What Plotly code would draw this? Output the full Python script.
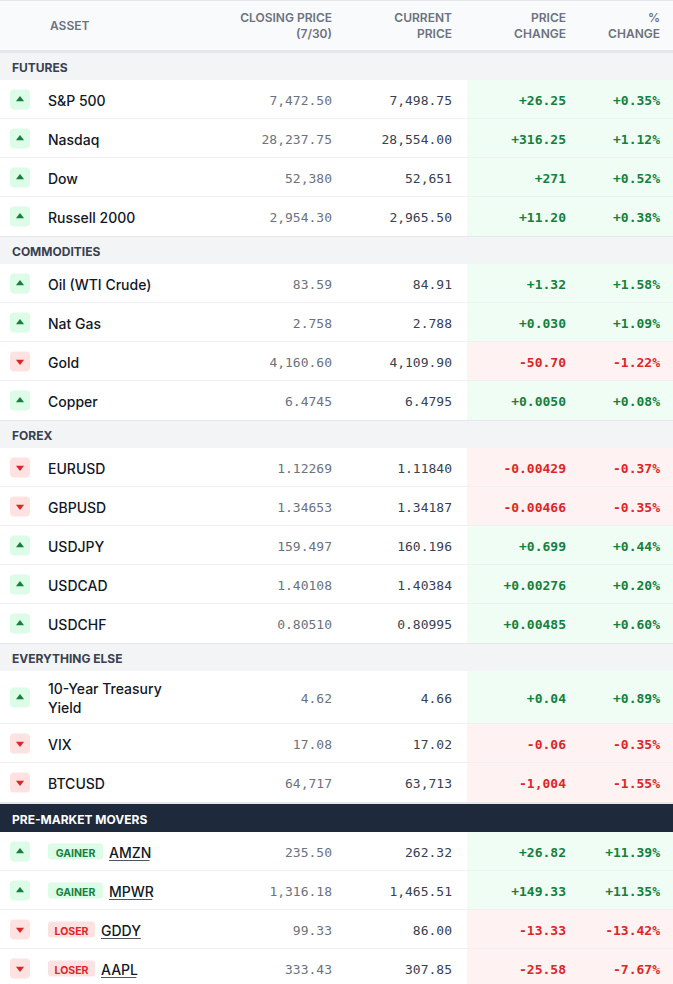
import plotly.graph_objects as go

# market snapshot table
W, H = 673, 984

sections = ["FUTURES", "COMMODITIES", "FOREX", "EVERYTHING ELSE", "PRE-MARKET MOVERS"]
section_sizes = [4, 4, 5, 3, 4]

assets = ["S&P 500", "Nasdaq", "Dow", "Russell 2000",
          "Oil (WTI Crude)", "Nat Gas", "Gold", "Copper",
          "EURUSD", "GBPUSD", "USDJPY", "USDCAD", "USDCHF",
          "10-Year Treasury<br>Yield", "VIX", "BTCUSD",
          "AMZN", "MPWR", "GDDY", "AAPL"]
mover_tags = ["GAINER", "GAINER", "LOSER", "LOSER"]

closing = ["7,472.50", "28,237.75", "52,380", "2,954.30",
           "83.59", "2.758", "4,160.60", "6.4745",
           "1.12269", "1.34653", "159.497", "1.40108", "0.80510",
           "4.62", "17.08", "64,717",
           "235.50", "1,316.18", "99.33", "333.43"]
current = ["7,498.75", "28,554.00", "52,651", "2,965.50",
           "84.91", "2.788", "4,109.90", "6.4795",
           "1.11840", "1.34187", "160.196", "1.40384", "0.80995",
           "4.66", "17.02", "63,713",
           "262.32", "1,465.51", "86.00", "307.85"]
price_change = ["+26.25", "+316.25", "+271", "+11.20",
                "+1.32", "+0.030", "-50.70", "+0.0050",
                "-0.00429", "-0.00466", "+0.699", "+0.00276", "+0.00485",
                "+0.04", "-0.06", "-1,004",
                "+26.82", "+149.33", "-13.33", "-25.58"]
pct_change = ["+0.35%", "+1.12%", "+0.52%", "+0.38%",
              "+1.58%", "+1.09%", "-1.22%", "+0.08%",
              "-0.37%", "-0.35%", "+0.44%", "+0.20%", "+0.60%",
              "+0.89%", "-0.35%", "-1.55%",
              "+11.39%", "+11.35%", "-13.42%", "-7.67%"]

header_labels = ["ASSET", "CLOSING PRICE<br>(7/30)", "CURRENT<br>PRICE", "PRICE<br>CHANGE", "%<br>CHANGE"]

GREEN, RED = "#15803d", "#dc2626"
GREEN_BG, RED_BG = "#f0fdf4", "#fef2f2"
GREEN_ICON, RED_ICON = "#dcfce7", "#fee2e2"
SANS = "Inter"
MONO = "DejaVu Sans Mono"

HEADER_H, SEC_H, ROW_H, TALL_H = 52, 28, 39, 53
X_NAME, X_CLOSE, X_CUR, X_CHG, X_PCT, X_BG = 48, 332, 452, 566, 660, 467
TXT_DY = 2.5  # plotly sets "middle" text a little high

# rough Inter 14px glyph widths for the ticker underline
glyph_w = {"A": 9.6, "M": 11.8, "Z": 8.8, "N": 10.3, "P": 8.8, "W": 13.6,
           "R": 9.0, "G": 10.2, "D": 10.2, "Y": 9.2, "L": 7.4}


def rounded_rect(x0, y0, x1, y1, r):
    return (f"M{x0+r},{y0} L{x1-r},{y0} Q{x1},{y0} {x1},{y0+r} L{x1},{y1-r} "
            f"Q{x1},{y1} {x1-r},{y1} L{x0+r},{y1} Q{x0},{y1} {x0},{y1-r} "
            f"L{x0},{y0+r} Q{x0},{y0} {x0+r},{y0} Z")


shapes = []
# table header
shapes.append(dict(type="rect", x0=0, x1=W, y0=0, y1=HEADER_H, fillcolor="#f9fafb", line_width=0))
shapes.append(dict(type="line", x0=0, x1=W, y0=0.5, y1=0.5, line=dict(color="#e5e7eb", width=1)))
shapes.append(dict(type="line", x0=0, x1=W, y0=HEADER_H - 1, y1=HEADER_H - 1, line=dict(color="#e5e7eb", width=2)))

sec_y, sec_col = [], []
row_y = []
y = HEADER_H
i = 0
for s, (name, n) in enumerate(zip(sections, section_sizes)):
    dark = s == len(sections) - 1
    if dark:
        shapes.append(dict(type="rect", x0=0, x1=W, y0=y, y1=y + 2, fillcolor="#e5e7eb", line_width=0))
        shapes.append(dict(type="rect", x0=0, x1=W, y0=y + 2, y1=y + SEC_H + 2, fillcolor="#1e293b", line_width=0))
        sec_y.append(y + 2 + SEC_H / 2)
        sec_col.append("#ffffff")
        y += SEC_H + 2
    else:
        shapes.append(dict(type="rect", x0=0, x1=W, y0=y, y1=y + SEC_H, fillcolor="#f3f4f6", line_width=0))
        shapes.append(dict(type="line", x0=0, x1=W, y0=y + 0.5, y1=y + 0.5, line=dict(color="#e5e7eb", width=1)))
        sec_y.append(y + SEC_H / 2)
        sec_col.append("#374151")
        y += SEC_H
    for k in range(n):
        h = TALL_H if "<br>" in assets[i] else ROW_H
        up = not price_change[i].startswith("-")
        shapes.append(dict(type="rect", x0=X_BG, x1=W, y0=y, y1=y + h,
                           fillcolor=GREEN_BG if up else RED_BG, line_width=0))
        if k < n - 1 or dark:
            shapes.append(dict(type="line", x0=0, x1=W, y0=y + h - 0.5, y1=y + h - 0.5,
                               line=dict(color="#eef0f3", width=1)))
        c = y + h / 2
        shapes.append(dict(type="path", path=rounded_rect(10, c - 10, 30, c + 10, 4),
                           fillcolor=GREEN_ICON if up else RED_ICON, line_width=0))
        row_y.append(c)
        y += h
        i += 1

up_flags = [not p.startswith("-") for p in price_change]
chg_colors = [GREEN if u else RED for u in up_flags]
text_y = [c + TXT_DY for c in row_y]

# asset names, movers get a badge and an underlined ticker
name_x, badge_x, badge_y, badge_txt, badge_col = [], [], [], [], []
n_plain = len(assets) - len(mover_tags)
for i, name in enumerate(assets):
    if i < n_plain:
        name_x.append(X_NAME)
        continue
    tag = mover_tags[i - n_plain]
    bw = 8 * len(tag) + 7
    c = row_y[i]
    gain = tag == "GAINER"
    shapes.append(dict(type="path", path=rounded_rect(X_NAME, c - 8, X_NAME + bw, c + 8, 3),
                       fillcolor=GREEN_ICON if gain else RED_ICON, line_width=0))
    badge_x.append(X_NAME + bw / 2)
    badge_y.append(c + TXT_DY)
    badge_txt.append(tag)
    badge_col.append(GREEN if gain else RED)
    tx = X_NAME + bw + 6
    name_x.append(tx)
    tw = sum(glyph_w.get(ch, 9) for ch in name)
    shapes.append(dict(type="line", x0=tx, x1=tx + tw, y0=c + 9, y1=c + 9,
                       line=dict(color="#4b5563", width=1)))

fig = go.Figure()

# header labels
fig.add_trace(go.Scatter(
    x=[50, X_CLOSE, X_CUR, X_CHG, X_PCT], y=[HEADER_H / 2 + 1] * 5,
    text=header_labels, mode="text",
    textposition=["middle right"] + ["middle left"] * 4,
    textfont=dict(family=SANS, size=12, color="#6b7280", weight=600),
    hoverinfo="skip"))

# section labels
fig.add_trace(go.Scatter(
    x=[12] * len(sections), y=[v + TXT_DY for v in sec_y], text=sections, mode="text",
    textposition="middle right",
    textfont=dict(family=SANS, size=12, color=sec_col, weight=700),
    hoverinfo="skip"))

# arrows
fig.add_trace(go.Scatter(
    x=[20] * len(row_y), y=row_y, mode="markers",
    marker=dict(symbol=["triangle-up" if u else "triangle-down" for u in up_flags],
                size=7, color=chg_colors, line_width=0),
    hoverinfo="skip"))

fig.add_trace(go.Scatter(
    x=name_x, y=text_y, text=assets, mode="text", textposition="middle right",
    textfont=dict(family=SANS, size=14, color="#111827", weight=500),
    hoverinfo="skip"))

fig.add_trace(go.Scatter(
    x=badge_x, y=badge_y, text=badge_txt, mode="text", textposition="middle center",
    textfont=dict(family=SANS, size=10.5, color=badge_col, weight=700),
    hoverinfo="skip"))

fig.add_trace(go.Scatter(
    x=[X_CLOSE] * len(closing), y=text_y, text=closing, mode="text", textposition="middle left",
    textfont=dict(family=MONO, size=13, color="#6b7280"),
    hoverinfo="skip"))

fig.add_trace(go.Scatter(
    x=[X_CUR] * len(current), y=text_y, text=current, mode="text", textposition="middle left",
    textfont=dict(family=MONO, size=13, color="#374151"),
    hoverinfo="skip"))

fig.add_trace(go.Scatter(
    x=[X_CHG] * len(price_change), y=text_y, text=price_change, mode="text", textposition="middle left",
    textfont=dict(family=MONO, size=13, color=chg_colors, weight=700),
    hoverinfo="skip"))

fig.add_trace(go.Scatter(
    x=[X_PCT] * len(pct_change), y=text_y, text=pct_change, mode="text", textposition="middle left",
    textfont=dict(family=MONO, size=13, color=chg_colors, weight=700),
    hoverinfo="skip"))

fig.update_layout(
    width=W, height=H,
    margin=dict(l=0, r=0, t=0, b=0),
    paper_bgcolor="white", plot_bgcolor="white",
    showlegend=False,
    shapes=[dict(s, layer="below", xref="x", yref="y") for s in shapes],
    xaxis=dict(range=[0, W], visible=False, fixedrange=True),
    yaxis=dict(range=[H, 0], visible=False, fixedrange=True),
)

# drop the default page margin so the table sits at the window edge
fig.write_html("out.html", config={"displayModeBar": False},
               post_script="document.body.style.margin='0';")
